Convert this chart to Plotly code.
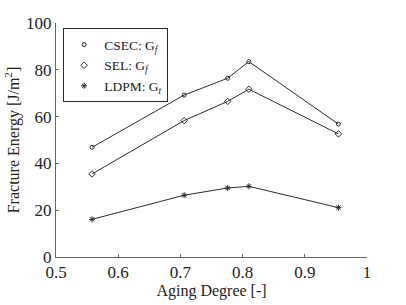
import plotly.graph_objects as go

aging = [0.558, 0.706, 0.776, 0.810, 0.954]
csec_gf = [46.9, 69.2, 76.4, 83.5, 56.8]
sel_gf = [35.5, 58.3, 66.5, 71.7, 52.6]
ldpm_gt = [16.1, 26.4, 29.5, 30.2, 21.1]

names = ["CSEC: G<sub><i>f</i></sub>", "SEL: G<sub><i>f</i></sub>", "LDPM: G<sub><i>t</i></sub>"]
series = [csec_gf, sel_gf, ldpm_gt]
symbols = ["circle-open", "diamond-open", "asterisk-open"]
sizes = [4, 5, 5]

FONT = "Liberation Serif"
LC = "#2b2b2b"

fig = go.Figure()
for name, ys, sym, sz in zip(names, series, symbols, sizes):
    fig.add_trace(go.Scatter(x=aging, y=ys, mode="lines+markers", showlegend=False,
                             line=dict(color=LC, width=1),
                             marker=dict(symbol=sym, size=sz, color=LC, line=dict(width=1, color=LC))))
for name, sym, sz in zip(names, symbols, sizes):
    fig.add_trace(go.Scatter(x=[None], y=[None], mode="markers", name=name,
                             marker=dict(symbol=sym, size=sz, color=LC, line=dict(width=1, color=LC))))

fig.update_layout(
    width=406, height=305,
    margin=dict(l=56, r=39, t=23, b=48, autoexpand=False),
    paper_bgcolor="white", plot_bgcolor="white",
    font=dict(family=FONT, size=17, color="#222"),
    showlegend=True,
    legend=dict(x=0.023, y=0.977, xanchor="left", yanchor="top",
                bordercolor=LC, borderwidth=1, bgcolor="white",
                font=dict(family=FONT, size=13.5), itemwidth=30,
                tracegroupgap=0, traceorder="normal"),
    xaxis=dict(range=[0.5, 1.0], tickvals=[0.5, 0.6, 0.7, 0.8, 0.9, 1.0],
               ticktext=["0.5", "0.6", "0.7", "0.8", "0.9", "1"],
               tickfont=dict(family=FONT, size=17),
               showgrid=False, zeroline=False, showline=True, linecolor="#666", linewidth=1,
               ticks="inside", ticklen=3, tickcolor="#666", automargin=False,
               title=dict(text="Aging Degree [-]", font=dict(family=FONT, size=16), standoff=2)),
    yaxis=dict(range=[0, 100], tickvals=[0, 20, 40, 60, 80, 100],
               tickfont=dict(family=FONT, size=17),
               showgrid=False, zeroline=False, showline=True, linecolor="#666", linewidth=1,
               ticks="inside", ticklen=3, tickcolor="#666", automargin=False,
               title=dict(text="Fracture Energy [J/m<sup>2</sup>]", font=dict(family=FONT, size=16), standoff=2)),
)

fig.write_html("out.html", config={"displayModeBar": False},
               post_script="document.body.style.margin='0';document.body.style.padding='0';")
